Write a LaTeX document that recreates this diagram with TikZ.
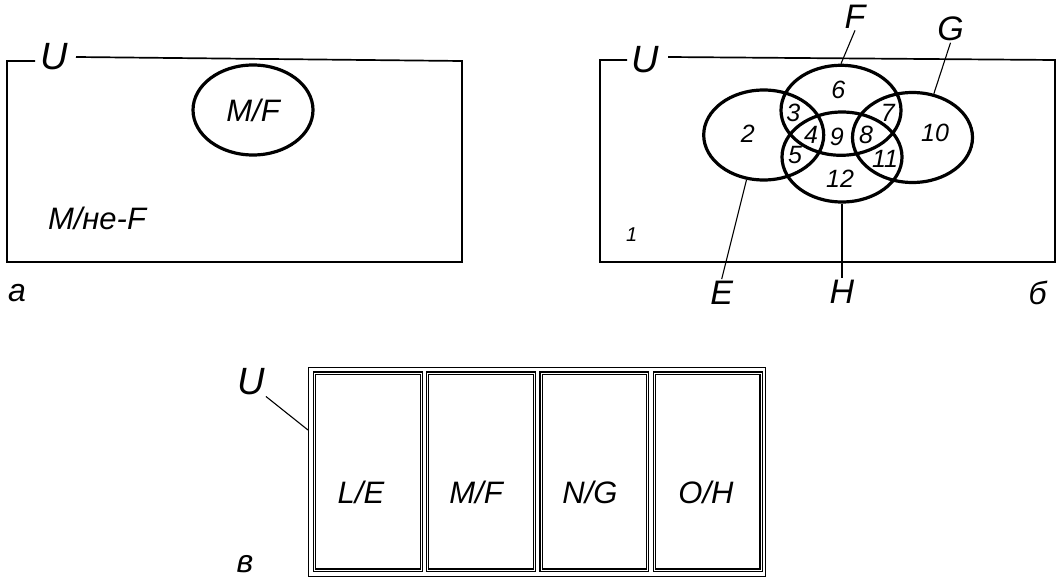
\documentclass[tikz,border=0pt]{standalone}
\usepackage{fontspec}
\setmainfont{Liberation Sans}
\usetikzlibrary{shapes.geometric}
\begin{document}
\begin{tikzpicture}[x=1pt,y=-1pt,
  frame/.style={line width=1.7pt, line join=miter},
  venn/.style={draw, ellipse, line width=3.2pt, minimum width=120pt, minimum height=90pt, inner sep=0pt},
  biglbl/.style={font=\fontsize{38}{40}\selectfont\itshape, inner sep=1pt},
  lbl/.style={font=\fontsize{31}{34}\selectfont\itshape, inner sep=1pt},
  num/.style={font=\fontsize{25}{28}\selectfont\itshape, inner sep=0pt},
  setlbl/.style={font=\fontsize{34}{36}\selectfont\itshape, inner sep=1.5pt},
  panel/.style={font=\fontsize{32}{34}\selectfont\itshape, inner sep=0pt},
  lead/.style={line width=1.1pt},
  cbox/.style={draw, double, line width=1.2pt, double distance=0.8pt},
  ]
\useasboundingbox (0,0) rectangle (1059,577);

% ---------- panel a ----------
\node[biglbl] (Ua) at (54,57) {U};
\draw[frame] (35,61) -- (7,61) -- (7,262) -- (462,262) -- (462,61) -- (76,57);
\node[venn, lbl] (MFa) at (253,110) {M/F};
\node[lbl] (notF) at (97,218) {M/не-F};
\node[panel] (pa) at (17,293) {а};

% ---------- panel b ----------
\node[biglbl] (Ub) at (645,60) {U};
\draw[frame] (627,60) -- (600,60) -- (600,262) -- (1055,262) -- (1055,60) -- (668,57);
\node[venn] (E) at (763.7,135) {};
\node[venn] (F) at (841,110.3) {};
\node[venn] (G) at (912.5,137.5) {};
\node[venn] (H) at (842,157) {};

\node[num] (n6) at (838.3,90) {6};
\node[num] (n3) at (793.3,113.3) {3};
\node[num] (n7) at (887.7,113.3) {7};
\node[num] (n2) at (747.7,133.3) {2};
\node[num] (n4) at (811,135) {4};
\node[num] (n9) at (836.7,136.7) {9};
\node[num] (n8) at (866,135) {8};
\node[num] (n10) at (935,133.3) {10};
\node[num] (n5) at (795,155) {5};
\node[num] (n11) at (885,159.3) {11};
\node[num] (n12) at (840,178.3) {12};
\node[num, font=\fontsize{20}{22}\selectfont\itshape] (n1) at (631.7,235) {1};

\node[setlbl] (Flab) at (855,17) {F};
\node[setlbl] (Glab) at (950.5,29) {G};
\node[setlbl] (Elab) at (721.7,292.5) {E};
\node[setlbl] (Hlab) at (842,291.7) {H};
\draw[lead] (F.90) -- (Flab.south);
\draw[lead] (G.64) -- (Glab.south);
\draw[lead] (E.249) -- (Elab.north);
\draw[lead] (H.270) -- (Hlab.north);
\node[panel] (pb) at (1037.5,293) {б};

% ---------- panel c ----------
\draw[line width=1pt] (308,367) rectangle (765,576);
\draw[cbox] (314.5,373) rectangle (421.25,570);
\draw[cbox] (427.75,373) rectangle (534.5,570);
\draw[cbox] (541,373) rectangle (647.75,570);
\draw[cbox] (654.25,373) rectangle (761,570);
\node[lbl] (LE) at (361,492) {L/E};
\node[lbl] (MFc) at (476,492) {M/F};
\node[lbl] (NG) at (590,492) {N/G};
\node[lbl] (OH) at (706,492) {O/H};
\node[biglbl] (Uc) at (251,382) {U};
\coordinate (Uend) at (308,430);
\draw[lead] (Uc.south east) -- (Uend);
\node[panel] (pc) at (245,564) {в};
\end{tikzpicture}
\end{document}
